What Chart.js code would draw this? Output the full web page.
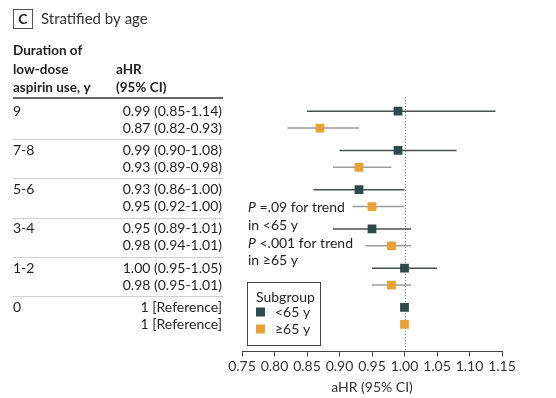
<!DOCTYPE html>
<html><head><meta charset="utf-8">
<script src="https://cdn.jsdelivr.net/npm/chart.js@4/dist/chart.umd.min.js"></script>
<style>html,body{margin:0;padding:0;background:#fff;overflow:hidden}</style>
</head><body>
<canvas id="c" width="556" height="398"></canvas>
<script>
// ---- data ----
const durations = ["9", "7-8", "5-6", "3-4", "1-2", "0"];
const hrUnder65 = [0.99, 0.99, 0.93, 0.95, 1.00, 1.00];
const loUnder65 = [0.85, 0.90, 0.86, 0.89, 0.95, null];
const hiUnder65 = [1.14, 1.08, 1.00, 1.01, 1.05, null];
const hrOver65  = [0.87, 0.93, 0.95, 0.98, 0.98, 1.00];
const loOver65  = [0.82, 0.89, 0.92, 0.94, 0.95, null];
const hiOver65  = [0.93, 0.98, 1.00, 1.01, 1.01, null];
const xTickValues = [0.75, 0.80, 0.85, 0.90, 0.95, 1.00, 1.05, 1.10, 1.15];
const subgroupLabels = ["<65 y", "\u226565 y"];
const trendNotes = [["P", " =.09 for trend"], ["", "in <65 y"], ["P", " <.001 for trend"], ["", "in \u226565 y"]];

// ---- style ----
const FONT = "Lato, 'Open Sans', sans-serif";
const DARK = "#2b4a49";
const ORANGE = "#e9a135";
const DARK_CI = "#4a4f4f";
const ORANGE_CI = "#9b9b9b";
const TEXT = "#1f1f1f";
const SUB = 0.43; // offset of second row inside a group (in group units)

const rowY = (g, s) => g + s * SUB;

function ciDatasets(hr, lo, hi, sub, color) {
  const out = [];
  hr.forEach((v, g) => {
    if (lo[g] == null) return;
    out.push({
      type: 'line', order: 2,
      data: [{x: lo[g], y: rowY(g, sub)}, {x: hi[g], y: rowY(g, sub)}],
      borderColor: color, borderWidth: 1.5, pointRadius: 0, fill: false
    });
  });
  return out;
}
function pointDataset(hr, sub, color) {
  return {
    type: 'scatter', order: 1,
    data: hr.map((v, g) => ({x: v, y: rowY(g, sub)})),
    pointStyle: 'rect', pointRadius: 6.2, pointHoverRadius: 6.2,
    backgroundColor: color, borderColor: color, borderWidth: 0
  };
}
function ciText(hr, lo, hi, g) {
  if (lo[g] == null) return hr[g].toFixed(0) + " [Reference]";
  return hr[g].toFixed(2) + " (" + lo[g].toFixed(2) + "-" + hi[g].toFixed(2) + ")";
}

const tablePlugin = {
  id: 'table',
  beforeDatasetsDraw(chart) {
    const ctx = chart.ctx, xs = chart.scales.x, a = chart.chartArea;
    const x1 = Math.round(xs.getPixelForValue(1.0)) + 0.5;
    ctx.save();
    ctx.strokeStyle = "#888"; ctx.lineWidth = 1; ctx.setLineDash([1, 2]);
    ctx.beginPath(); ctx.moveTo(x1, a.top); ctx.lineTo(x1, a.bottom); ctx.stroke();
    ctx.restore();
  },
  afterDraw(chart) {
    const ctx = chart.ctx, ys = chart.scales.y;
    ctx.save();
    // panel title
    ctx.strokeStyle = "#555"; ctx.lineWidth = 1;
    ctx.strokeRect(13.5, 9.5, 19, 19);
    ctx.fillStyle = TEXT; ctx.textBaseline = 'middle';
    ctx.font = "bold 14px " + FONT; ctx.textAlign = 'center';
    ctx.fillText("C", 23, 19.5);
    ctx.font = "15px " + FONT; ctx.textAlign = 'left';
    ctx.fillStyle = "#333";
    ctx.fillText("Stratified by age", 41, 19);
    // header
    ctx.fillStyle = TEXT;
    ctx.font = "bold 13.5px " + FONT;
    ctx.fillText("Duration of", 13, 51);
    ctx.fillText("low-dose", 13, 70);
    ctx.fillText("aspirin use, y", 13, 88);
    ctx.fillText("aHR", 116, 70);
    ctx.fillText("(95% CI)", 116, 88);
    ctx.strokeStyle = "#333"; ctx.lineWidth = 1.5;
    ctx.beginPath(); ctx.moveTo(13, 98); ctx.lineTo(223, 98); ctx.stroke();
    // rows
    ctx.font = "14px " + FONT;
    durations.forEach((d, g) => {
      const y0 = ys.getPixelForValue(rowY(g, 0));
      const y1 = ys.getPixelForValue(rowY(g, 1));
      ctx.fillStyle = TEXT; ctx.textAlign = 'left';
      ctx.fillText(d, 13, y0);
      ctx.textAlign = 'right';
      ctx.fillText(ciText(hrUnder65, loUnder65, hiUnder65, g), 222, y0);
      ctx.fillText(ciText(hrOver65, loOver65, hiOver65, g), 222, y1);
      if (g < durations.length - 1) {
        const ys2 = Math.round(ys.getPixelForValue(g + SUB + (1 - SUB) / 2)) + 0.5;
        ctx.strokeStyle = "#cfcfcf"; ctx.lineWidth = 1;
        ctx.beginPath(); ctx.moveTo(13, ys2); ctx.lineTo(223, ys2); ctx.stroke();
      }
    });
    // trend notes
    const noteY = [207, 225, 243, 260];
    trendNotes.forEach((n, i) => {
      ctx.textAlign = 'left'; ctx.fillStyle = TEXT;
      let x = 248;
      if (n[0]) {
        ctx.font = "italic 14px " + FONT;
        ctx.fillText(n[0], x, noteY[i]);
        x += ctx.measureText(n[0]).width;
      }
      ctx.font = "14px " + FONT;
      ctx.fillText(n[1], x, noteY[i]);
    });
    // legend box
    ctx.fillStyle = "#fff";
    ctx.fillRect(247, 282, 73, 63);
    ctx.strokeStyle = "#444"; ctx.lineWidth = 1;
    ctx.strokeRect(247.5, 282.5, 73, 63);
    ctx.fillStyle = TEXT; ctx.font = "14px " + FONT; ctx.textAlign = 'left';
    ctx.fillText("Subgroup", 256, 297);
    [DARK, ORANGE].forEach((c, i) => {
      const y = 312 + i * 17;
      ctx.fillStyle = c; ctx.fillRect(256, y - 4.5, 9, 9);
      ctx.fillStyle = TEXT; ctx.fillText(subgroupLabels[i], 275, y);
    });
    ctx.restore();
  }
};

const datasets = [
  ...ciDatasets(hrUnder65, loUnder65, hiUnder65, 0, DARK_CI),
  ...ciDatasets(hrOver65, loOver65, hiOver65, 1, ORANGE_CI),
  pointDataset(hrUnder65, 0, DARK),
  pointDataset(hrOver65, 1, ORANGE)
];

new Chart(document.getElementById('c'), {
  type: 'scatter',
  data: { datasets },
  options: {
    responsive: false, animation: false,
    layout: { padding: { left: 242, right: 54, top: 97, bottom: 2 } },
    plugins: { legend: { display: false }, tooltip: { enabled: false } },
    scales: {
      x: {
        type: 'linear', min: 0.75, max: 1.15,
        afterBuildTicks(s) { s.ticks = xTickValues.map(v => ({value: v})); },
        ticks: { color: "#333", font: { family: FONT, size: 14 }, padding: 2,
                 callback: v => Number(v).toFixed(2), maxRotation: 0, autoSkip: false },
        grid: { drawOnChartArea: false, drawTicks: true, tickLength: 5, color: "#444" },
        border: { display: true, color: "#444", width: 1 },
        title: { display: true, text: "aHR (95% CI)", color: "#333",
                 font: { family: FONT, size: 14 }, padding: { top: 2, bottom: 0 } }
      },
      y: {
        type: 'linear', display: false, reverse: true, min: -0.36, max: 6.12
      }
    }
  },
  plugins: [tablePlugin]
});
</script>
</body></html>
